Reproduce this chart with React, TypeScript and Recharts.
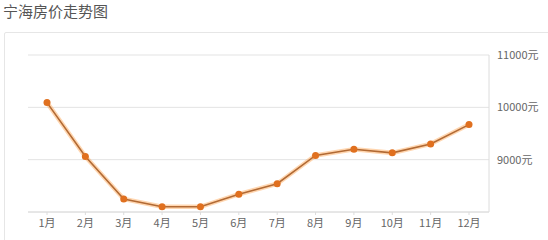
import { CartesianGrid, Line, LineChart, XAxis, YAxis } from "recharts";

const months = ["1月", "2月", "3月", "4月", "5月", "6月", "7月", "8月", "9月", "10月", "11月", "12月"];
const prices = [10090, 9060, 8250, 8100, 8100, 8340, 8540, 9080, 9200, 9130, 9300, 9670];
const priceTicks = [9000, 10000, 11000];

const data = months.map((month, i) => ({ month, price: prices[i] }));

const font = '"Noto Sans CJK SC", "Noto Sans", sans-serif';

export default function App() {
  return (
    <div
      style={{
        position: "absolute",
        left: 0,
        top: 0,
        width: 548,
        height: 240,
        background: "#fff",
        overflow: "hidden",
        fontFamily: font,
      }}
    >
      <div style={{ position: "absolute", left: 3, top: 0, fontSize: 15, color: "#555", lineHeight: "22px" }}>
        宁海房价走势图
      </div>
      <div
        style={{
          position: "absolute",
          left: 4,
          top: 32,
          width: 600,
          height: 260,
          border: "1px solid #e6e6e6",
          borderRadius: 2,
        }}
      />
      <div style={{ position: "absolute", left: 0, top: 0 }}>
        <LineChart width={548} height={240} data={data} margin={{ top: 55, right: 0, left: 28, bottom: 8 }}>
          <CartesianGrid vertical={false} stroke="#e3e3e3" />
          <XAxis
            dataKey="month"
            height={20}
            padding={{ left: 19, right: 20 }}
            axisLine={{ stroke: "#dcdcdc" }}
            tickLine={{ stroke: "#dcdcdc" }}
            tickSize={3}
            tickMargin={4}
            tick={{ fill: "#666", fontSize: 11, fontFamily: font }}
            interval={0}
          />
          <YAxis
            orientation="right"
            width={59}
            domain={[8000, 11000]}
            ticks={priceTicks}
            axisLine={{ stroke: "#dcdcdc" }}
            tickLine={false}
            tickSize={0}
            tickMargin={8}
            tickFormatter={(v) => `${v}元`}
            tick={{ fill: "#666", fontSize: 11, fontFamily: font, textAnchor: "start" }}
          />
          <Line
            dataKey="price"
            type="linear"
            stroke="rgba(255,165,80,0.45)"
            strokeWidth={4.5}
            dot={false}
            activeDot={false}
            isAnimationActive={false}
          />
          <Line
            dataKey="price"
            type="linear"
            stroke="#b26a34"
            strokeWidth={1.6}
            dot={{ r: 3.5, fill: "#e0701f", stroke: "#e0701f", strokeWidth: 0 }}
            activeDot={false}
            isAnimationActive={false}
          />
        </LineChart>
      </div>
    </div>
  );
}
